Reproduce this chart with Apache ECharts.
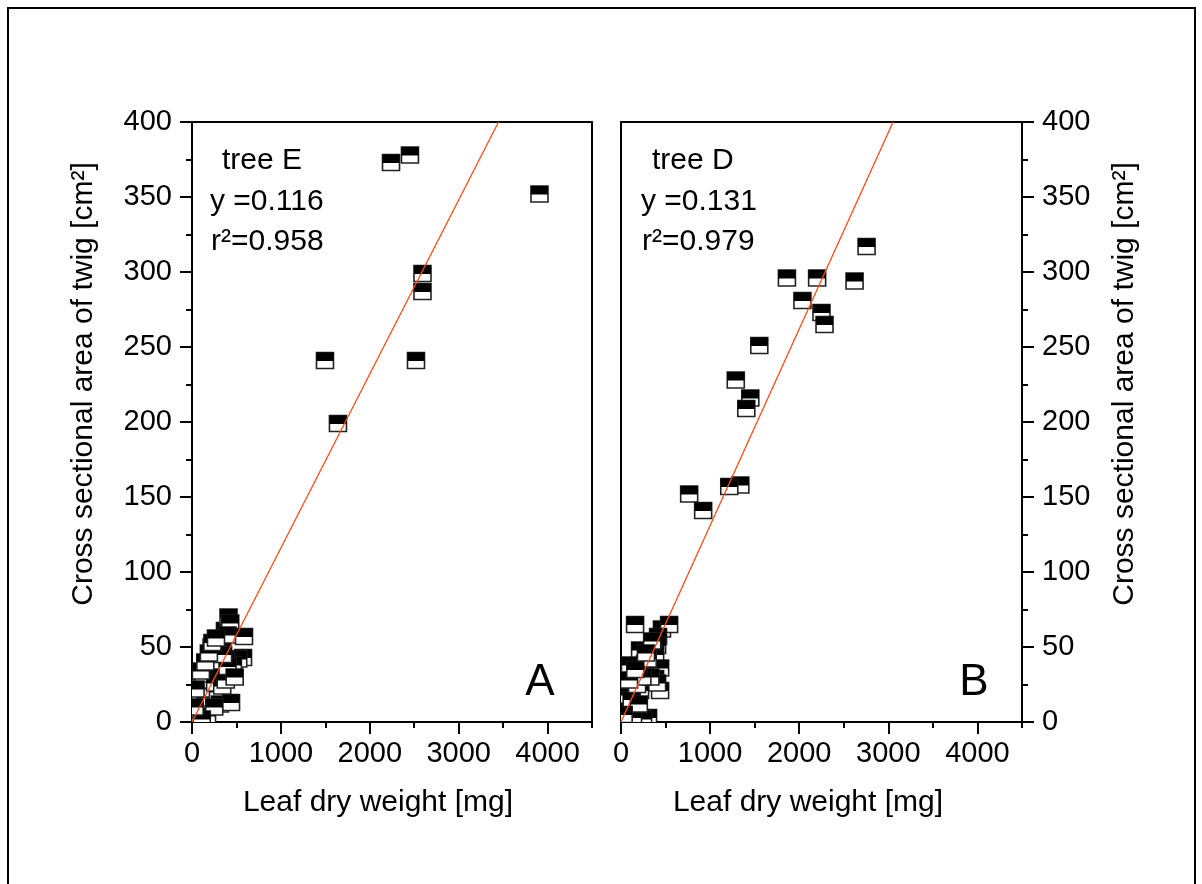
<!DOCTYPE html>
<html><head><meta charset="utf-8">
<script src="https://cdn.jsdelivr.net/npm/echarts@6/dist/echarts.min.js"></script>
<style>html,body{margin:0;padding:0;background:#fff}#c{width:1202px;height:884px}</style>
</head><body><div id="c"></div>
<script>
// ---- data ----
const xTickValues = [0, 1000, 2000, 3000, 4000];
const treeELeaf = [2239,2452,3909,2593,2593,1496,2520,1642,
  56,90,56,90,120,70,150,169,200,160,180,130,210,260,240,200,281,337,371,411,430,400,585,574,520,427,460,380,320,300,292,260,315,439,340,380,400,480,250,110,30,40,220,350,100,150,190,230,270];
const treeEArea = [373,378,352,299,287,241,241,199,
  4,8,14,20,24,28,12,4,16,22,28,32,36,35,40,44,48,51,61,70,66,58,57,43,42,33,38,42,40,30,20,26,12,13,24,28,37,30,10,2,10,22,50,45,34,40,46,53,56];
const treeDLeaf = [1862,2201,2621,2756,2036,2250,2284,1552,1288,1451,1406,1339,1215,765,922,
  158,460,540,416,405,214,383,270,439,101,270,383,439,405,79,214,79,158,304,248,135,50,120,180,330,300,350,240,200,30,90,160,280];
const treeDArea = [296,296,294,317,281,273,265,251,228,216,209,158,157,152,141,
  65,62,65,57,51,48,45,39,36,38,33,29,21,26,23,21,11,7,3,2,3,18,15,25,30,42,54,30,12,5,28,35,46];
const slopeE = 0.116, slopeD = 0.131;
const labelsE = ['tree E', 'y =0.116', 'r\u00B2=0.958'];
const labelsD = ['tree D', 'y =0.131', 'r\u00B2=0.979'];
const xName = 'Leaf dry weight [mg]';
const yName = 'Cross sectional area of twig [cm\u00B2]';

// ---- chart ----
const FONT = '"Liberation Sans", Arial, sans-serif';
const pts = (xs, ys) => xs.map((x, i) => [x, ys[i]]);
function marker(params, api) {
  const p = api.coord([api.value(0), api.value(1)]);
  const w = 17, h = 16;
  return {type: 'group', children: [
    {type: 'rect', shape: {x: p[0]-w/2, y: p[1]-h/2, width: w, height: h}, style: {fill: '#fff', stroke: '#222', lineWidth: 1.6}},
    {type: 'rect', shape: {x: p[0]-w/2, y: p[1]-h/2, width: w, height: h/2 + 0.5}, style: {fill: '#000'}}
  ]};
}
const black = {color: '#000', width: 2};
const plain = v => String(v);
function xAxes(g) {
  return [
    {gridIndex: g, type: 'value', position: 'bottom', min: 0, max: 4500, interval: 500,
     axisLine: {onZero: false, lineStyle: black},
     axisTick: {customValues: xTickValues, length: 12, lineStyle: black},
     axisLabel: {customValues: xTickValues, formatter: plain, margin: 17, fontSize: 29, fontFamily: FONT, color: '#000'},
     splitLine: {show: false}},
    {gridIndex: g, type: 'value', position: 'bottom', min: 0, max: 4500, interval: 500,
     axisLine: {show: false}, axisTick: {length: 6, lineStyle: black}, axisLabel: {show: false}, splitLine: {show: false}},
    {gridIndex: g, type: 'value', position: 'top', min: 0, max: 4500,
     axisLine: {onZero: false, lineStyle: black}, axisTick: {show: false}, axisLabel: {show: false}, splitLine: {show: false}}
  ];
}
function yMain(g, pos) {
  return {gridIndex: g, type: 'value', position: pos, min: 0, max: 400, interval: 50,
    axisLine: {onZero: false, lineStyle: black},
    axisTick: {length: 12, lineStyle: black},
    minorTick: {show: true, splitNumber: 2, length: 6, lineStyle: black},
    axisLabel: {formatter: plain, margin: 20, fontSize: 29, fontFamily: FONT, color: '#000'},
    splitLine: {show: false}, minorSplitLine: {show: false}};
}
function yFrame(g, pos) {
  return {gridIndex: g, type: 'value', position: pos, min: 0, max: 400,
    axisLine: {onZero: false, lineStyle: black}, axisTick: {show: false}, axisLabel: {show: false}, splitLine: {show: false}};
}
function txt(text, x, y, size, opts) {
  return Object.assign({type: 'text', x: x, y: y, silent: true,
    style: Object.assign({text: text, fontSize: size, fontFamily: FONT, fill: '#000',
      align: 'left', verticalAlign: 'middle', textAlign: 'left', textVerticalAlign: 'middle'}, (opts && opts.style) || {})},
    (opts && opts.el) || {});
}
const center = {align: 'center', textAlign: 'center'};
const graphics = [
  {type: 'rect', shape: {x: 8, y: 8, width: 1187, height: 900}, style: {fill: 'none', stroke: '#000', lineWidth: 2}, silent: true},
  txt(labelsE[0], 222, 161, 30), txt(labelsE[1], 210, 202, 30), txt(labelsE[2], 211, 242, 30),
  txt(labelsD[0], 652, 161, 30), txt(labelsD[1], 641, 202, 30), txt(labelsD[2], 642, 242, 30),
  txt('A', 540, 683, 44, {style: center}), txt('B', 974, 683, 44, {style: center}),
  txt(xName, 378, 803, 30, {style: center}), txt(xName, 808, 803, 30, {style: center}),
  txt(yName, 84, 384, 30, {style: center, el: {rotation: Math.PI/2}}),
  txt(yName, 1125, 384, 30, {style: center, el: {rotation: Math.PI/2}})
];
const lineStyle = {color: '#ff4a12', width: 1.3};
const option = {
  animation: false,
  backgroundColor: '#fff',
  grid: [
    {left: 192, top: 122, width: 400, height: 600},
    {left: 621, top: 122, width: 401, height: 600}
  ],
  xAxis: xAxes(0).concat(xAxes(1)),
  yAxis: [yMain(0, 'left'), yFrame(0, 'right'), yMain(1, 'right'), yFrame(1, 'left')],
  series: [
    {type: 'custom', xAxisIndex: 0, yAxisIndex: 0, renderItem: marker, clip: true, data: pts(treeELeaf, treeEArea), z: 2},
    {type: 'line', xAxisIndex: 0, yAxisIndex: 0, data: [[0, 0], [400/slopeE, 400]], showSymbol: false, lineStyle: lineStyle, z: 3},
    {type: 'custom', xAxisIndex: 3, yAxisIndex: 2, renderItem: marker, clip: true, data: pts(treeDLeaf, treeDArea), z: 2},
    {type: 'line', xAxisIndex: 3, yAxisIndex: 2, data: [[0, 0], [400/slopeD, 400]], showSymbol: false, lineStyle: lineStyle, z: 3}
  ],
  graphic: graphics
};
echarts.init(document.getElementById('c')).setOption(option);
</script></body></html>
